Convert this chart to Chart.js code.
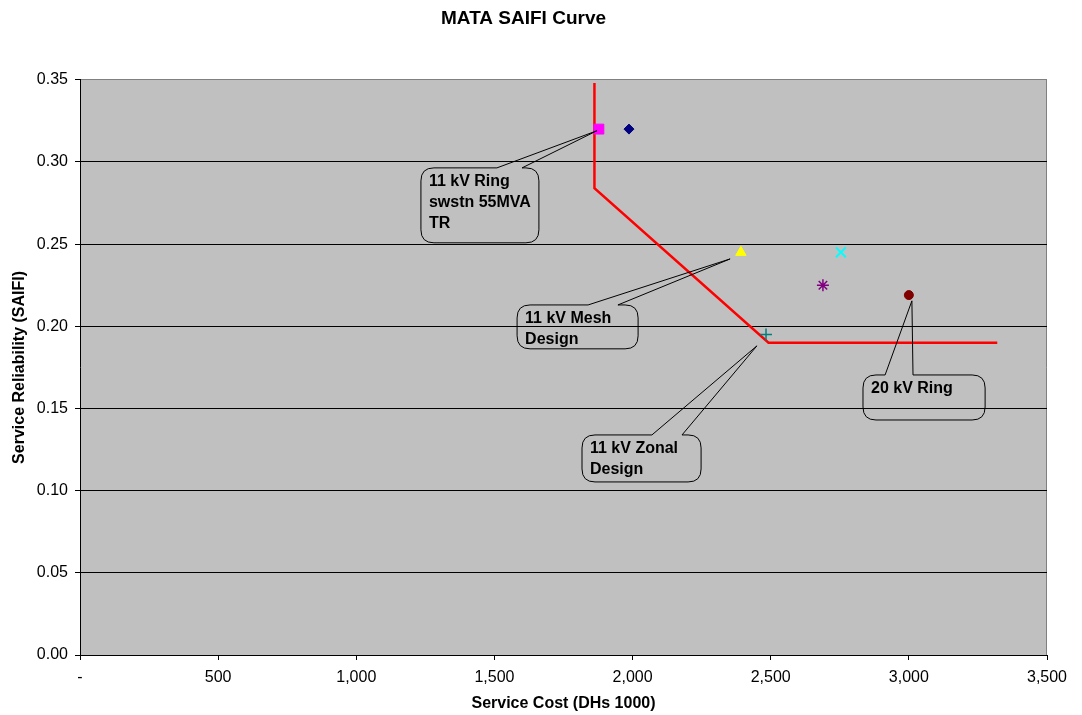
<!DOCTYPE html>
<html><head><meta charset="utf-8">
<script src="https://cdn.jsdelivr.net/npm/chart.js@4"></script>
<style>html,body{margin:0;padding:0;background:#fff}</style>
</head><body>
<canvas id="c" width="1082" height="715"></canvas>
<script>
// ---- data ----
const pointNames  = ['Point A', 'Point B', 'Point C', 'Point D', 'Point E', 'Point F', 'Point G'];
const pointCost   = [1878, 1987, 2392, 2754, 2689, 3000, 2483];
const pointSaifi  = [0.320, 0.320, 0.245, 0.245, 0.225, 0.219, 0.195];
const pointColors = ['#FF00FF', '#000080', '#FFFF00', '#00FFFF', '#800080', '#800000', '#008080'];
const pointStyles = ['rect', 'rectRot', 'triangle', 'crossRot', 'star', 'circle', 'cross'];
const pointSizes  = [7, 5, 6, 7, 6, 4.5, 6];
const pointLines  = [1, 1, 1, 2, 1.5, 1, 1.5];

const curveCost  = [1862, 1862, 2492, 3320];
const curveSaifi = [0.348, 0.284, 0.190, 0.190];

const xTickValues = [0, 500, 1000, 1500, 2000, 2500, 3000, 3500];
const yTickValues = [0, 0.05, 0.10, 0.15, 0.20, 0.25, 0.30, 0.35];

const calloutText   = [['11 kV Ring', 'swstn 55MVA', 'TR'], ['11 kV Mesh', 'Design'], ['11 kV Zonal', 'Design'], ['20 kV Ring']];
const calloutLeft   = [1234, 1582, 1817, 2834];
const calloutRight  = [1661, 2020, 2248, 3276];
const calloutTop    = [0.2964, 0.2130, 0.1339, 0.1704];
const calloutBottom = [0.2508, 0.1863, 0.1053, 0.1430];
const calloutTipX   = [1871, 2353, 2450, 3011];
const calloutTipY   = [0.319, 0.241, 0.1881, 0.2155];
const calloutBase1  = [1509, 1839, 2070, 2914];
const calloutBase2  = [1600, 1947, 2179, 3015];

const FONT = '"Liberation Sans", Arial, sans-serif';

const datasets = [{
  type: 'line', label: 'Curve',
  data: curveCost.map((x, i) => ({x, y: curveSaifi[i]})),
  borderColor: '#FF0000', borderWidth: 2.5, pointRadius: 0, showLine: true, fill: false, order: 2
}];
pointCost.forEach((x, i) => {
  datasets.push({
    type: 'scatter', label: pointNames[i],
    data: [{x, y: pointSaifi[i]}],
    pointStyle: pointStyles[i],
    backgroundColor: pointColors[i], borderColor: pointColors[i],
    pointRadius: pointSizes[i], borderWidth: pointLines[i],
    order: 1
  });
});

const bgPlugin = {
  id: 'bg',
  beforeDraw(chart) {
    const {ctx, chartArea: a} = chart;
    ctx.save();
    ctx.fillStyle = '#C0C0C0';
    ctx.fillRect(a.left, a.top, a.right - a.left, a.bottom - a.top);
    ctx.strokeStyle = '#808080';
    ctx.lineWidth = 1;
    ctx.beginPath();
    ctx.moveTo(a.right - 0.5, a.top);
    ctx.lineTo(a.right - 0.5, a.bottom);
    ctx.stroke();
    ctx.restore();
  }
};

const calloutPlugin = {
  id: 'callouts',
  afterDatasetsDraw(chart) {
    const {ctx, scales: {x, y}} = chart;
    ctx.save();
    ctx.strokeStyle = '#000';
    ctx.lineWidth = 1;
    calloutText.forEach((lines, i) => {
      const l = x.getPixelForValue(calloutLeft[i]), r = x.getPixelForValue(calloutRight[i]);
      const t = y.getPixelForValue(calloutTop[i]), b = y.getPixelForValue(calloutBottom[i]);
      const tx = x.getPixelForValue(calloutTipX[i]), ty = y.getPixelForValue(calloutTipY[i]);
      const b1 = x.getPixelForValue(calloutBase1[i]), b2 = x.getPixelForValue(calloutBase2[i]);
      const rad = 13;
      ctx.beginPath();
      ctx.moveTo(l + rad, t);
      ctx.lineTo(b1, t);
      ctx.lineTo(tx, ty);
      ctx.lineTo(b2, t);
      ctx.lineTo(r - rad, t);
      ctx.quadraticCurveTo(r, t, r, t + rad);
      ctx.lineTo(r, b - rad);
      ctx.quadraticCurveTo(r, b, r - rad, b);
      ctx.lineTo(l + rad, b);
      ctx.quadraticCurveTo(l, b, l, b - rad);
      ctx.lineTo(l, t + rad);
      ctx.quadraticCurveTo(l, t, l + rad, t);
      ctx.closePath();
      ctx.stroke();
      ctx.fillStyle = '#000';
      ctx.font = 'bold 16px ' + FONT;
      ctx.textBaseline = 'middle';
      ctx.textAlign = 'left';
      lines.forEach((s, j) => ctx.fillText(s, l + 8, t + 14 + j * 21));
    });
    ctx.restore();
  }
};

new Chart(document.getElementById('c'), {
  data: {datasets},
  options: {
    responsive: false, animation: false,
    layout: {padding: {left: 0, right: 35, top: 0, bottom: 0}},
    plugins: {
      legend: {display: false}, tooltip: {enabled: false},
      title: {display: true, text: 'MATA SAIFI Curve', color: '#000',
        font: {family: FONT, size: 19, weight: 'bold'}, padding: {top: 7, bottom: 50}}
    },
    scales: {
      x: {
        type: 'linear', min: 0, max: 3500,
        afterBuildTicks: s => { s.ticks = xTickValues.map(v => ({value: v})); },
        afterFit: s => { s.height = 60; },
        ticks: {color: '#000', font: {family: FONT, size: 16}, padding: 8,
          callback: v => v === 0 ? '-' : v.toLocaleString('en-US')},
        grid: {drawOnChartArea: false, drawTicks: true, tickLength: 5, tickColor: '#000'},
        border: {color: '#000', width: 1},
        title: {display: true, text: 'Service Cost (DHs 1000)', color: '#000',
          font: {family: FONT, size: 16, weight: 'bold'}, padding: {top: 4, bottom: 2}}
      },
      y: {
        type: 'linear', min: 0, max: 0.35,
        afterBuildTicks: s => { s.ticks = yTickValues.map(v => ({value: v})); },
        afterFit: s => { s.width = 80; },
        ticks: {color: '#000', font: {family: FONT, size: 16}, padding: 7,
          callback: v => v.toFixed(2)},
        grid: {color: c => (c.index === yTickValues.length - 1 ? '#808080' : '#000'),
          lineWidth: 1, tickLength: 5, tickColor: '#000'},
        border: {color: '#000', width: 1},
        title: {display: true, text: 'Service Reliability (SAIFI)', color: '#000',
          font: {family: FONT, size: 16, weight: 'bold'}, padding: {top: 10, bottom: 4}}
      }
    }
  },
  plugins: [bgPlugin, calloutPlugin]
});
</script>
</body></html>
